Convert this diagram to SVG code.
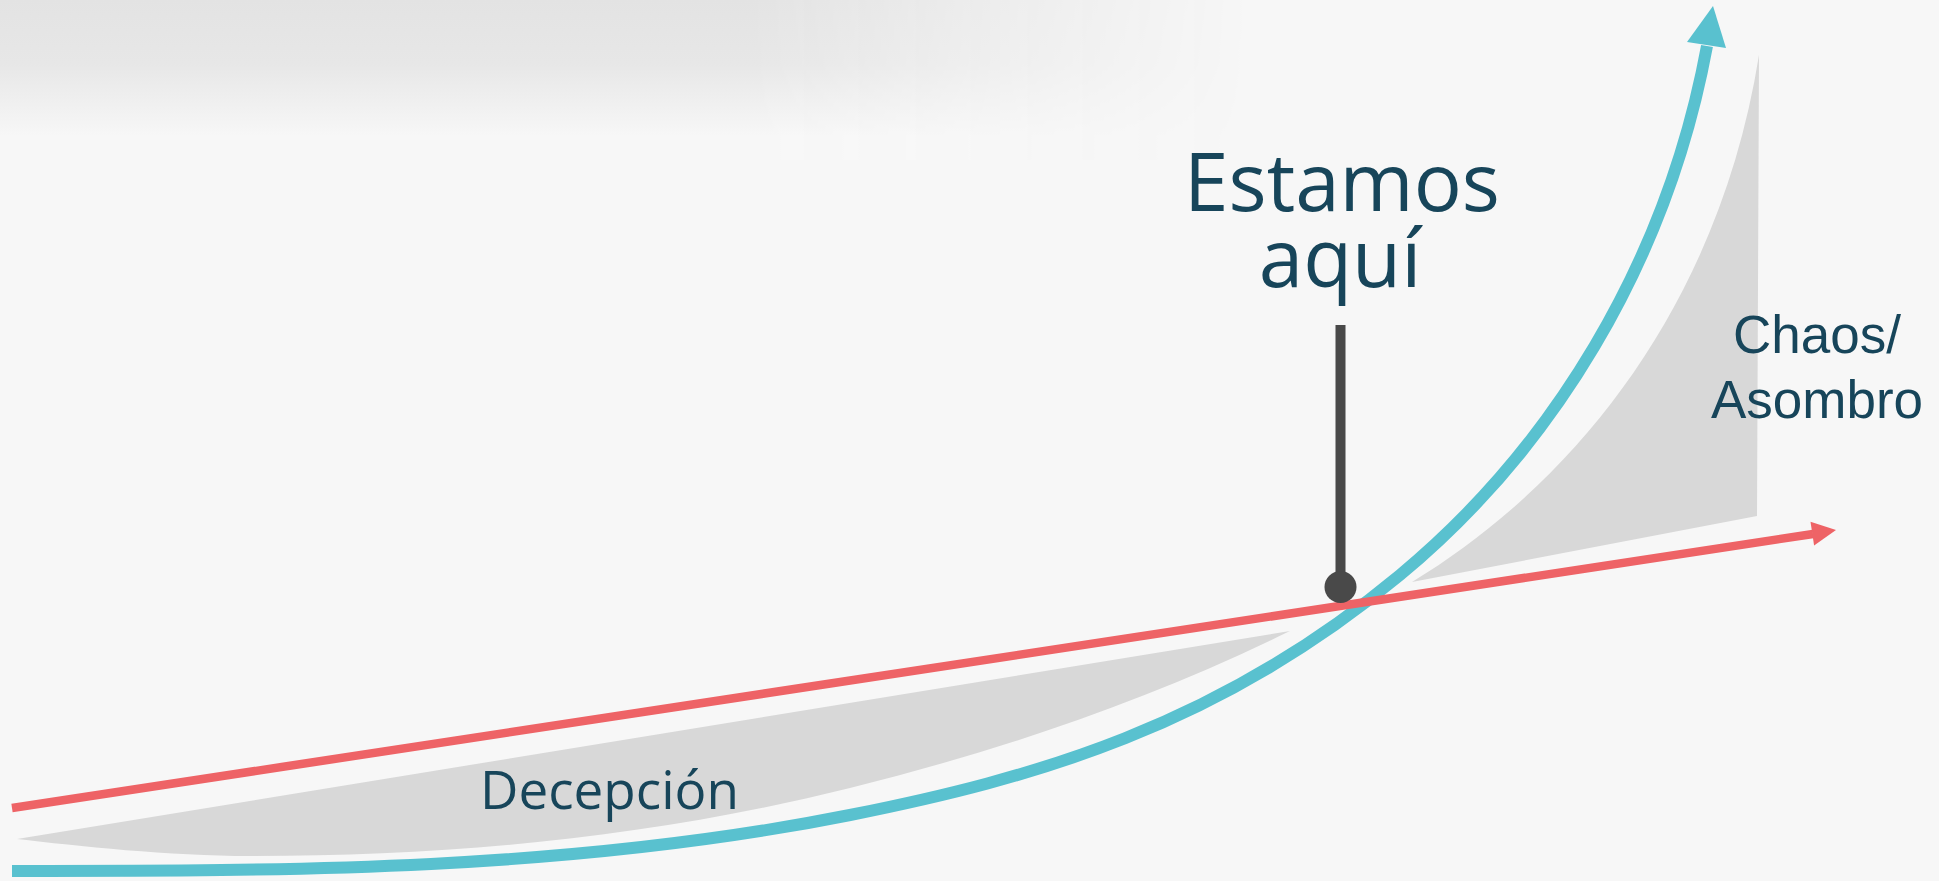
<svg xmlns="http://www.w3.org/2000/svg" width="1939" height="881" viewBox="0 0 1939 881">
  <style>
    .shade { fill: #d8d8d8; }
    .curve { fill: none; stroke: #59c1cf; stroke-width: 12; }
    .trend { fill: none; stroke: #ee6366; stroke-width: 8.5; }
    .lbl { fill: #17455a; }
    .big { font-family: "Open Sans", "Noto Sans", sans-serif; font-size: 80px; }
    .mid { font-family: "Open Sans", "Noto Sans", sans-serif; font-size: 53px; }
    .side { font-family: "Liberation Sans", Arial, sans-serif; font-size: 53px; }
  </style>
  <defs>
    <linearGradient id="vg" x1="0" y1="0" x2="0" y2="1">
      <stop offset="0" stop-color="#e3e3e3"/>
      <stop offset="0.4" stop-color="#e7e7e7"/>
      <stop offset="0.85" stop-color="#f7f7f7"/>
      <stop offset="1" stop-color="#f7f7f7"/>
    </linearGradient>
    <linearGradient id="hg" x1="0" y1="0" x2="1" y2="0">
      <stop offset="0" stop-color="#fff"/>
      <stop offset="0.6" stop-color="#fff"/>
      <stop offset="1" stop-color="#000"/>
    </linearGradient>
    <mask id="hm">
      <rect x="0" y="0" width="1250" height="160" fill="url(#hg)"/>
    </mask>
  </defs>

  <rect x="0" y="0" width="1939" height="881" fill="#f7f7f7"/>
  <rect x="0" y="0" width="1250" height="160" fill="url(#vg)" mask="url(#hm)"/>

  <g id="decepcion-area">
    <path class="shade" d="M17,839 L1290,631 C1143,703 997,751.3 850,788 C650,838 450,856 250,856 C170,856 77,846 17,839 Z"/>
  </g>
  <g id="chaos-area">
    <path class="shade" d="M1412,582 C1580,480 1720,300 1759,55 L1757,516 Z"/>
  </g>

  <g id="connectors">
    <path id="exponential" class="curve" d="M12,871 C291,871 571,870.8 850,815 C1033,778.4 1217,727 1400,575 C1550,450.5 1666.3,266 1707,46"/>
    <polygon fill="#59c1cf" points="1713,6 1687,42 1726,48"/>
    <path id="linear" class="trend" d="M12,808 L1813,534"/>
    <polygon fill="#ee6366" points="1836,530 1810.5,521.7 1814.1,545.5"/>
  </g>

  <g id="marker-here">
    <rect x="1335.5" y="325" width="10" height="262" fill="#494949"/>
    <circle cx="1340.5" cy="587" r="16" fill="#494949"/>
  </g>

  <g id="label-here">
    <text class="lbl big" x="1342" y="211" text-anchor="middle">Estamos</text>
    <text class="lbl big" x="1340" y="287" text-anchor="middle">aquí</text>
  </g>
  <g id="label-decepcion">
    <text class="lbl mid" x="480" y="809">Decepción</text>
  </g>
  <g id="label-chaos">
    <text class="lbl side" x="1817" y="353" text-anchor="middle">Chaos/</text>
    <text class="lbl side" x="1817" y="418" text-anchor="middle">Asombro</text>
  </g>
</svg>
